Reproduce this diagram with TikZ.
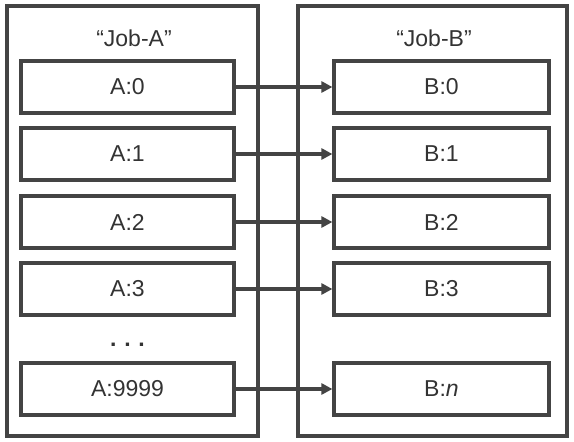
\documentclass[tikz,border=0pt]{standalone}
\usepackage{fontspec}
\setmainfont{Liberation Sans}
\usetikzlibrary{arrows.meta}
\definecolor{ln}{HTML}{444444}
\definecolor{tx}{HTML}{333333}
\begin{document}
\begin{tikzpicture}[x=1pt,y=-1pt,
  outerbox/.style={draw=ln,line width=3.2pt,minimum width=#1,minimum height=430pt,inner sep=0pt},
  jobbox/.style={draw=ln,line width=3.2pt,minimum height=52pt,inner sep=0pt,text=tx,font=\fontsize{23}{27}\selectfont},
  abox/.style={jobbox,minimum width=213pt},
  bbox/.style={jobbox,minimum width=215pt},
  title/.style={text=tx,font=\fontsize{23}{27}\selectfont,inner sep=0pt},
  conn/.style={draw=ln,line width=3.2pt,-{Triangle[length=11pt,width=11pt]}}]
\useasboundingbox (0,0) rectangle (574,442);
\node[outerbox=251pt] (L) at (132.5,221) {};
\node[outerbox=269pt] (R) at (432.5,221) {};
\node[title] (ta) at (134,38) {“Job-A”};
\node[title] (tb) at (434,38) {“Job-B”};
\node[abox] (a0) at (127.5,87) {A:0};
\node[abox] (a1) at (127.5,154) {A:1};
\node[abox] (a2) at (127.5,222) {A:2};
\node[abox] (a3) at (127.5,289) {A:3};
\node[abox] (a4) at (127.5,389) {A:9999};
\node[bbox] (b0) at (441.5,87) {B:0};
\node[bbox] (b1) at (441.5,154) {B:1};
\node[bbox] (b2) at (441.5,222) {B:2};
\node[bbox] (b3) at (441.5,289) {B:3};
\node[bbox] (b4) at (441.5,389) {B:\textit{n}};
\node[text=tx,font=\fontsize{23}{27}\selectfont\bfseries,inner sep=0pt] (dots) at (127.5,345) {.\,\,.\,\,.};
\foreach \i in {0,...,4} \draw[conn] (a\i) -- (b\i);
\end{tikzpicture}
\end{document}
